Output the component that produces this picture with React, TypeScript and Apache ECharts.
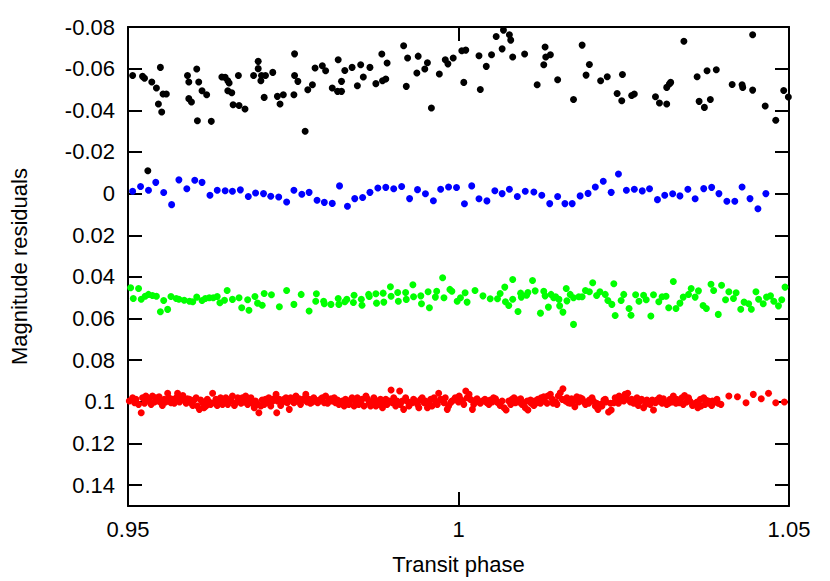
import React, { useEffect, useRef } from "react";
import * as echarts from "echarts";

const xTicks = { min: 0.95, max: 1.05, interval: 0.05 };
const yTicks = { min: -0.08, max: 0.15, interval: 0.02 };
const xTitle = "Transit phase";
const yTitle = "Magnitude residuals";

const blackData: [number, number][] = [
  [0.9507,-0.0567],[0.9522,-0.0563],[0.9525,-0.0554],[0.9530,-0.0110],[0.9536,-0.0536],[0.9543,-0.0507],[0.9546,-0.0430],[0.9549,-0.0606],[0.9551,-0.0392],[0.9553,-0.0478],[0.9558,-0.0478],[0.9590,-0.0567],[0.9592,-0.0536],[0.9592,-0.0456],[0.9596,-0.0440],[0.9604,-0.0598],[0.9605,-0.0350],[0.9607,-0.0536],[0.9612,-0.0494],[0.9619,-0.0475],[0.9626,-0.0347],[0.9642,-0.0560],[0.9647,-0.0558],[0.9651,-0.0542],[0.9651,-0.0494],[0.9653,-0.0531],[0.9657,-0.0484],[0.9659,-0.0427],[0.9667,-0.0567],[0.9668,-0.0423],[0.9677,-0.0406],[0.9690,-0.0567],[0.9697,-0.0635],[0.9697,-0.0600],[0.9701,-0.0542],[0.9702,-0.0567],[0.9706,-0.0462],[0.9708,-0.0567],[0.9719,-0.0582],[0.9726,-0.0467],[0.9730,-0.0430],[0.9735,-0.0475],[0.9751,-0.0475],[0.9752,-0.0671],[0.9752,-0.0567],[0.9757,-0.0539],[0.9768,-0.0299],[0.9772,-0.0499],[0.9779,-0.0523],[0.9783,-0.0603],[0.9794,-0.0614],[0.9799,-0.0590],[0.9809,-0.0507],[0.9817,-0.0491],[0.9818,-0.0643],[0.9823,-0.0491],[0.9823,-0.0539],[0.9828,-0.0591],[0.9839,-0.0606],[0.9847,-0.0518],[0.9852,-0.0619],[0.9856,-0.0560],[0.9866,-0.0606],[0.9875,-0.0528],[0.9884,-0.0670],[0.9885,-0.0542],[0.9890,-0.0550],[0.9892,-0.0627],[0.9917,-0.0710],[0.9921,-0.0515],[0.9923,-0.0651],[0.9937,-0.0579],[0.9939,-0.0660],[0.9949,-0.0598],[0.9953,-0.0628],[0.9959,-0.0411],[0.9971,-0.0574],[0.9980,-0.0643],[0.9984,-0.0623],[0.9992,-0.0651],[1.0005,-0.0686],[1.0008,-0.0534],[1.0011,-0.0689],[1.0031,-0.0662],[1.0033,-0.0500],[1.0042,-0.0611],[1.0050,-0.0667],[1.0057,-0.0754],[1.0066,-0.0695],[1.0068,-0.0785],[1.0077,-0.0763],[1.0079,-0.0737],[1.0082,-0.0656],[1.0100,-0.0670],[1.0119,-0.0523],[1.0129,-0.0619],[1.0131,-0.0704],[1.0132,-0.0656],[1.0139,-0.0667],[1.0150,-0.0547],[1.0174,-0.0452],[1.0187,-0.0713],[1.0193,-0.0569],[1.0198,-0.0620],[1.0215,-0.0542],[1.0225,-0.0561],[1.0240,-0.0481],[1.0247,-0.0446],[1.0248,-0.0572],[1.0262,-0.0471],[1.0266,-0.0478],[1.0298,-0.0465],[1.0304,-0.0435],[1.0315,-0.0430],[1.0315,-0.0510],[1.0319,-0.0526],[1.0321,-0.0534],[1.0341,-0.0732],[1.0361,-0.0561],[1.0364,-0.0443],[1.0372,-0.0414],[1.0376,-0.0590],[1.0381,-0.0452],[1.0390,-0.0595],[1.0414,-0.0524],[1.0429,-0.0523],[1.0430,-0.0510],[1.0445,-0.0763],[1.0445,-0.0497],[1.0464,-0.0421],[1.0480,-0.0352],[1.0492,-0.0495],[1.0499,-0.0464]
];

const blueData: [number, number][] = [
  [0.9507,-0.0011],[0.9519,-0.0034],[0.9531,-0.0016],[0.9542,-0.0054],[0.9554,-0.0005],[0.9566,0.0053],[0.9577,-0.0066],[0.9589,-0.0023],[0.9601,-0.0064],[0.9612,-0.0054],[0.9624,0.0008],[0.9635,-0.0016],[0.9647,-0.0014],[0.9658,-0.0011],[0.9670,-0.0018],[0.9682,0.0014],[0.9693,-0.0003],[0.9705,0.0000],[0.9716,0.0013],[0.9728,0.0016],[0.9740,0.0040],[0.9751,-0.0016],[0.9763,0.0003],[0.9774,-0.0006],[0.9786,0.0032],[0.9797,0.0042],[0.9809,0.0047],[0.9820,-0.0037],[0.9832,0.0061],[0.9843,0.0024],[0.9855,0.0019],[0.9866,-0.0006],[0.9878,-0.0027],[0.9890,-0.0030],[0.9902,-0.0023],[0.9914,-0.0034],[0.9926,0.0024],[0.9938,-0.0019],[0.9950,0.0001],[0.9962,0.0034],[0.9973,-0.0021],[0.9985,-0.0032],[0.9997,-0.0029],[1.0009,0.0049],[1.0020,-0.0037],[1.0031,0.0025],[1.0043,0.0035],[1.0055,-0.0014],[1.0066,0.0000],[1.0077,-0.0021],[1.0089,0.0014],[1.0101,-0.0011],[1.0114,-0.0008],[1.0126,0.0008],[1.0138,0.0048],[1.0150,0.0014],[1.0161,0.0048],[1.0172,0.0048],[1.0184,0.0011],[1.0196,-0.0001],[1.0207,-0.0032],[1.0219,-0.0059],[1.0231,-0.0006],[1.0242,-0.0094],[1.0254,-0.0016],[1.0266,-0.0021],[1.0278,-0.0013],[1.0289,-0.0023],[1.0301,0.0029],[1.0312,0.0008],[1.0324,0.0001],[1.0335,0.0011],[1.0347,-0.0021],[1.0358,0.0025],[1.0371,-0.0024],[1.0383,-0.0030],[1.0394,0.0000],[1.0406,0.0037],[1.0418,0.0037],[1.0429,-0.0032],[1.0441,0.0024],[1.0453,0.0073],[1.0465,0.0000]
];

const greenData: [number, number][] = [
  [0.9504,0.0452],[0.9516,0.0456],[0.9508,0.0504],[0.9520,0.0507],[0.9526,0.0493],[0.9531,0.0484],[0.9537,0.0489],[0.9543,0.0493],[0.9554,0.0513],[0.9549,0.0567],[0.9560,0.0556],[0.9565,0.0494],[0.9573,0.0504],[0.9577,0.0507],[0.9585,0.0512],[0.9593,0.0517],[0.9598,0.0519],[0.9604,0.0497],[0.9612,0.0513],[0.9617,0.0504],[0.9623,0.0500],[0.9629,0.0500],[0.9635,0.0494],[0.9639,0.0524],[0.9646,0.0512],[0.9650,0.0465],[0.9658,0.0508],[0.9668,0.0500],[0.9672,0.0548],[0.9683,0.0560],[0.9681,0.0510],[0.9692,0.0494],[0.9696,0.0526],[0.9703,0.0536],[0.9706,0.0480],[0.9717,0.0486],[0.9729,0.0543],[0.9740,0.0465],[0.9751,0.0532],
  [0.9762,0.0484],[0.9774,0.0564],[0.9784,0.0517],[0.9785,0.0481],[0.9796,0.0517],[0.9797,0.0529],[0.9807,0.0532],[0.9818,0.0504],[0.9819,0.0532],[0.9828,0.0519],[0.9831,0.0508],[0.9841,0.0523],[0.9842,0.0488],[0.9853,0.0507],[0.9854,0.0536],[0.9864,0.0484],[0.9865,0.0494],[0.9875,0.0481],[0.9876,0.0526],[0.9886,0.0478],[0.9887,0.0521],[0.9897,0.0447],[0.9898,0.0493],[0.9908,0.0475],[0.9909,0.0517],[0.9920,0.0475],[0.9921,0.0508],[0.9931,0.0438],[0.9932,0.0495],[0.9943,0.0491],[0.9944,0.0529],[0.9954,0.0471],[0.9956,0.0548],[0.9965,0.0497],[0.9967,0.0469],[0.9976,0.0404],[0.9978,0.0500],[0.9987,0.0460],[0.9990,0.0469],[0.9998,0.0517],
  [1.0003,0.0500],[1.0010,0.0476],[1.0013,0.0521],[1.0025,0.0465],[1.0037,0.0491],[1.0048,0.0505],[1.0059,0.0505],[1.0063,0.0480],[1.0070,0.0449],[1.0071,0.0519],[1.0076,0.0537],[1.0082,0.0507],[1.0082,0.0412],[1.0090,0.0566],[1.0094,0.0478],[1.0095,0.0497],[1.0103,0.0488],[1.0105,0.0475],[1.0112,0.0417],[1.0116,0.0467],[1.0124,0.0574],[1.0129,0.0469],[1.0131,0.0491],[1.0136,0.0545],[1.0140,0.0484],[1.0144,0.0500],[1.0147,0.0495],[1.0152,0.0508],[1.0153,0.0539],[1.0158,0.0569],[1.0163,0.0456],[1.0164,0.0515],[1.0169,0.0484],[1.0174,0.0500],[1.0174,0.0628],[1.0182,0.0495],[1.0187,0.0495],[1.0192,0.0465],[1.0198,0.0471],[1.0203,0.0428],[1.0209,0.0489],[1.0214,0.0471],[1.0222,0.0484],[1.0226,0.0513],[1.0232,0.0532],[1.0235,0.0433],[1.0237,0.0585],[1.0246,0.0513],[1.0250,0.0484],
  [1.0258,0.0552],[1.0261,0.0584],[1.0268,0.0486],[1.0273,0.0517],[1.0280,0.0488],[1.0284,0.0510],[1.0291,0.0588],[1.0295,0.0486],[1.0303,0.0519],[1.0308,0.0495],[1.0314,0.0493],[1.0318,0.0548],[1.0325,0.0422],[1.0329,0.0552],[1.0335,0.0526],[1.0340,0.0497],[1.0348,0.0484],[1.0352,0.0456],[1.0358,0.0497],[1.0363,0.0467],[1.0370,0.0537],[1.0375,0.0552],[1.0382,0.0435],[1.0386,0.0465],[1.0393,0.0580],[1.0398,0.0440],[1.0404,0.0510],[1.0409,0.0471],[1.0416,0.0504],[1.0420,0.0476],[1.0427,0.0555],[1.0432,0.0521],[1.0439,0.0529],[1.0443,0.0555],[1.0450,0.0471],[1.0454,0.0507],[1.0461,0.0529],[1.0466,0.0497],[1.0472,0.0491],[1.0477,0.0517],[1.0484,0.0539],[1.0489,0.0510],[1.0494,0.0449]
];

const redData: [number, number][] = [
  [0.9502,0.0996],[0.9507,0.0980],[0.9510,0.1004],[0.9512,0.0988],[0.9516,0.1012],[0.9520,0.1052],[0.9522,0.0980],[0.9525,0.1007],[0.9527,0.0972],[0.9530,0.0991],[0.9532,0.0985],[0.9535,0.1012],[0.9537,0.0972],[0.9540,0.1001],[0.9542,0.0980],[0.9545,0.0996],[0.9547,0.0975],[0.9550,0.1004],[0.9552,0.1017],[0.9555,0.0988],[0.9557,0.1001],[0.9560,0.0959],[0.9562,0.0980],[0.9565,0.1004],[0.9567,0.0988],[0.9570,0.1007],[0.9573,0.0980],[0.9575,0.0959],[0.9578,0.1001],[0.9580,0.0980],[0.9583,0.0969],[0.9585,0.0991],[0.9588,0.1007],[0.9590,0.0985],[0.9593,0.0988],[0.9595,0.1004],[0.9598,0.1017],[0.9600,0.0991],[0.9603,0.0980],[0.9605,0.1020],[0.9608,0.1036],[0.9610,0.0991],[0.9613,0.1004],[0.9615,0.1028],[0.9618,0.1020],[0.9620,0.0988],[0.9623,0.1001],[0.9625,0.1012],[0.9628,0.0959],[0.9630,0.1004],[0.9633,0.0988],[0.9635,0.1017],[0.9638,0.0991],[0.9640,0.0980],[0.9643,0.1012],[0.9646,0.1001],[0.9648,0.0980],[0.9651,0.1012],[0.9653,0.0991],[0.9656,0.0996],[0.9658,0.0972],[0.9661,0.1017],[0.9663,0.1004],[0.9666,0.0980],[0.9668,0.0991],[0.9671,0.1007],[0.9673,0.0980],[0.9676,0.1001],[0.9678,0.0972],[0.9681,0.1012],[0.9683,0.0988],[0.9686,0.0980],[0.9688,0.1007],[0.9691,0.1028],[0.9693,0.0996],[0.9696,0.1012],[0.9698,0.1052],[0.9701,0.1020],[0.9703,0.0991],[0.9706,0.1012],[0.9708,0.0988],[0.9711,0.1004],[0.9713,0.0980],[0.9716,0.1020],[0.9719,0.0996],[0.9721,0.0985],[0.9724,0.0964],[0.9725,0.1052],[0.9726,0.0996],[0.9729,0.0988],[0.9731,0.1017],[0.9734,0.1001],[0.9736,0.0988],[0.9739,0.0980],[0.9741,0.1004],[0.9744,0.1036],[0.9746,0.0980],[0.9749,0.0996],[0.9751,0.1004],[0.9754,0.0972],[0.9756,0.0996],[0.9759,0.0985],[0.9761,0.1012],[0.9764,0.0991],[0.9766,0.0985],[0.9769,0.0964],[0.9771,0.1001],[0.9774,0.0988],[0.9776,0.1007],[0.9779,0.1001],[0.9781,0.0980],[0.9784,0.0991],[0.9787,0.1004],[0.9789,0.0996],[0.9792,0.0985],[0.9794,0.0980],[0.9797,0.1004],[0.9799,0.0972],[0.9802,0.1007],[0.9804,0.0988],[0.9807,0.0985],[0.9809,0.0996],[0.9812,0.0980],[0.9814,0.1004],[0.9817,0.0991],[0.9819,0.1012],[0.9822,0.1004],[0.9824,0.0996],[0.9827,0.1020],[0.9829,0.0988],[0.9832,0.1001],[0.9834,0.1012],[0.9837,0.0991],[0.9839,0.0980],[0.9842,0.1020],[0.9844,0.0996],[0.9847,0.0980],[0.9849,0.1012],[0.9852,0.1001],[0.9854,0.0988],[0.9857,0.1020],[0.9860,0.0972],[0.9862,0.0985],[0.9865,0.1004],[0.9867,0.1020],[0.9870,0.0996],[0.9872,0.0980],[0.9875,0.1020],[0.9877,0.0996],[0.9880,0.1012],[0.9882,0.0988],[0.9885,0.1028],[0.9887,0.1007],[0.9890,0.0988],[0.9892,0.1012],[0.9895,0.0996],[0.9898,0.0943],[0.9900,0.1004],[0.9902,0.0980],[0.9905,0.1020],[0.9907,0.0996],[0.9911,0.0948],[0.9912,0.1012],[0.9915,0.0996],[0.9917,0.1036],[0.9920,0.0980],[0.9922,0.0996],[0.9925,0.1020],[0.9927,0.1004],[0.9930,0.1004],[0.9932,0.0988],[0.9935,0.0996],[0.9938,0.1012],[0.9940,0.1028],[0.9943,0.0988],[0.9945,0.0980],[0.9948,0.1004],[0.9950,0.0996],[0.9953,0.1028],[0.9955,0.1007],[0.9958,0.0988],[0.9960,0.1020],[0.9963,0.0980],[0.9965,0.0996],[0.9968,0.1012],[0.9970,0.0959],[0.9973,0.0988],[0.9975,0.0991],[0.9978,0.1004],[0.9980,0.0980],[0.9983,0.1036],[0.9985,0.1020],[0.9988,0.1004],[0.9990,0.0996],[0.9993,0.0991],[0.9995,0.0980],[1.0000,0.1001],
  [1.0001,0.0972],[1.0003,0.0988],[1.0006,0.0996],[1.0008,0.1012],[1.0011,0.0948],[1.0013,0.0980],[1.0016,0.0964],[1.0018,0.0988],[1.0021,0.1036],[1.0023,0.1012],[1.0026,0.0991],[1.0028,0.0985],[1.0031,0.1001],[1.0033,0.1007],[1.0036,0.0996],[1.0040,0.0988],[1.0043,0.1004],[1.0046,0.1012],[1.0048,0.0991],[1.0051,0.1001],[1.0053,0.0980],[1.0056,0.0985],[1.0058,0.1001],[1.0061,0.1007],[1.0063,0.1017],[1.0066,0.0996],[1.0069,0.1028],[1.0072,0.1039],[1.0076,0.0996],[1.0079,0.1012],[1.0081,0.0988],[1.0084,0.0980],[1.0086,0.1004],[1.0089,0.0991],[1.0091,0.1001],[1.0094,0.0985],[1.0096,0.1012],[1.0099,0.1004],[1.0101,0.1028],[1.0104,0.0996],[1.0105,0.1039],[1.0109,0.0991],[1.0110,0.1007],[1.0114,0.1017],[1.0115,0.0996],[1.0119,0.1004],[1.0120,0.0988],[1.0124,0.1007],[1.0125,0.0980],[1.0129,0.0975],[1.0130,0.0996],[1.0134,0.1007],[1.0135,0.0972],[1.0139,0.0964],[1.0142,0.0988],[1.0143,0.1007],[1.0147,0.1001],[1.0149,0.1012],[1.0151,0.0972],[1.0154,0.0956],[1.0157,0.0988],[1.0158,0.0937],[1.0162,0.0996],[1.0164,0.0980],[1.0166,0.1004],[1.0169,0.1007],[1.0171,0.0985],[1.0174,0.0996],[1.0176,0.1023],[1.0179,0.0975],[1.0182,0.1001],[1.0184,0.0980],[1.0187,0.0985],[1.0188,0.0996],[1.0192,0.1012],[1.0193,0.1001],[1.0197,0.1007],[1.0198,0.0991],[1.0202,0.0980],[1.0204,0.0996],[1.0207,0.1020],[1.0209,0.1007],[1.0211,0.1036],[1.0215,0.1012],[1.0217,0.1020],[1.0220,0.0991],[1.0222,0.0988],[1.0223,0.1001],[1.0227,0.1049],[1.0230,0.1007],[1.0231,0.1039],[1.0235,0.1004],[1.0237,0.0980],[1.0240,0.0991],[1.0242,0.1007],[1.0243,0.0972],[1.0247,0.0980],[1.0250,0.0996],[1.0252,0.0964],[1.0255,0.0985],[1.0256,0.0959],[1.0260,0.1001],[1.0262,0.0988],[1.0265,0.1007],[1.0267,0.1001],[1.0270,0.0980],[1.0272,0.1017],[1.0275,0.0996],[1.0277,0.0988],[1.0280,0.1028],[1.0283,0.1012],[1.0285,0.0991],[1.0288,0.1004],[1.0290,0.1012],[1.0293,0.0991],[1.0295,0.1039],[1.0298,0.1004],[1.0300,0.0991],[1.0303,0.0996],[1.0304,0.0980],[1.0308,0.1007],[1.0310,0.0985],[1.0312,0.1001],[1.0315,0.1012],[1.0318,0.1007],[1.0320,0.0988],[1.0323,0.1001],[1.0325,0.0972],[1.0329,0.1007],[1.0330,0.0988],[1.0334,0.1004],[1.0335,0.0991],[1.0338,0.0980],[1.0340,0.1012],[1.0342,0.0969],[1.0345,0.1001],[1.0348,0.0980],[1.0350,0.0996],[1.0354,0.1017],[1.0358,0.1007],[1.0361,0.1001],[1.0362,0.1028],[1.0366,0.0988],[1.0367,0.1020],[1.0371,0.0980],[1.0373,0.1012],[1.0374,0.0991],[1.0378,0.0996],[1.0379,0.1007],[1.0383,0.1017],[1.0384,0.0996],[1.0388,0.1001],[1.0391,0.0988],[1.0393,0.1007],[1.0397,0.1012],[1.0409,0.0972],[1.0422,0.0975],[1.0435,0.1004],[1.0446,0.0964],[1.0458,0.0985],[1.0469,0.0959],[1.0480,0.1004],[1.0493,0.1001]
];

const seriesList = [
  { name: "black", color: "#000000", data: blackData },
  { name: "blue", color: "#0000ff", data: blueData },
  { name: "green", color: "#00ff00", data: greenData },
  { name: "red", color: "#ff0000", data: redData },
];

const FONT = "'Liberation Sans', Arial, Helvetica, sans-serif";

export default function App() {
  const ref = useRef<HTMLDivElement>(null);
  useEffect(() => {
    if (!ref.current) return;
    const chart = echarts.init(ref.current, null, { renderer: "svg" });
    const fmt = (v: number) => String(+v.toFixed(2));
    const lineStyle = { color: "#000", width: 2 };
    const tick = { show: true, inside: true, length: 14, lineStyle: { color: "#000", width: 2 } };
    const xBase = { type: "value", min: xTicks.min, max: xTicks.max, interval: xTicks.interval, splitLine: { show: false }, axisLine: { show: true, onZero: false, lineStyle }, axisTick: tick };
    const yBase = { type: "value", inverse: true, min: yTicks.min, max: yTicks.max, interval: yTicks.interval, splitLine: { show: false }, axisLine: { show: true, onZero: false, lineStyle }, axisTick: tick };
    chart.setOption({
      animation: false,
      backgroundColor: "#fff",
      grid: { left: 127, right: 41, top: 27, bottom: 75, containLabel: false },
      xAxis: [
        { ...xBase, position: "bottom", name: xTitle, nameLocation: "middle", nameGap: 47,
          nameTextStyle: { fontFamily: FONT, fontSize: 22, color: "#000" },
          axisLabel: { formatter: fmt, fontFamily: FONT, fontSize: 22, color: "#000", margin: 12 } },
        { ...xBase, position: "top", axisLabel: { show: false } },
      ],
      yAxis: [
        { ...yBase, position: "left", name: yTitle, nameLocation: "middle", nameGap: 98, nameRotate: 90,
          nameTextStyle: { fontFamily: FONT, fontSize: 22, color: "#000" },
          axisLabel: { formatter: fmt, fontFamily: FONT, fontSize: 22, color: "#000", margin: 13, showMaxLabel: false } },
        { ...yBase, position: "right", axisLabel: { show: false } },
      ],
      series: seriesList.map((s) => ({
        name: s.name,
        type: "scatter",
        xAxisIndex: 0,
        yAxisIndex: 0,
        symbol: "circle",
        symbolSize: 7,
        itemStyle: { color: s.color, opacity: 1 },
        data: s.data,
      })),
    });
    return () => chart.dispose();
  }, []);
  return <div ref={ref} style={{ position: "fixed", left: 0, top: 0, width: 830, height: 581 }} />;
}
